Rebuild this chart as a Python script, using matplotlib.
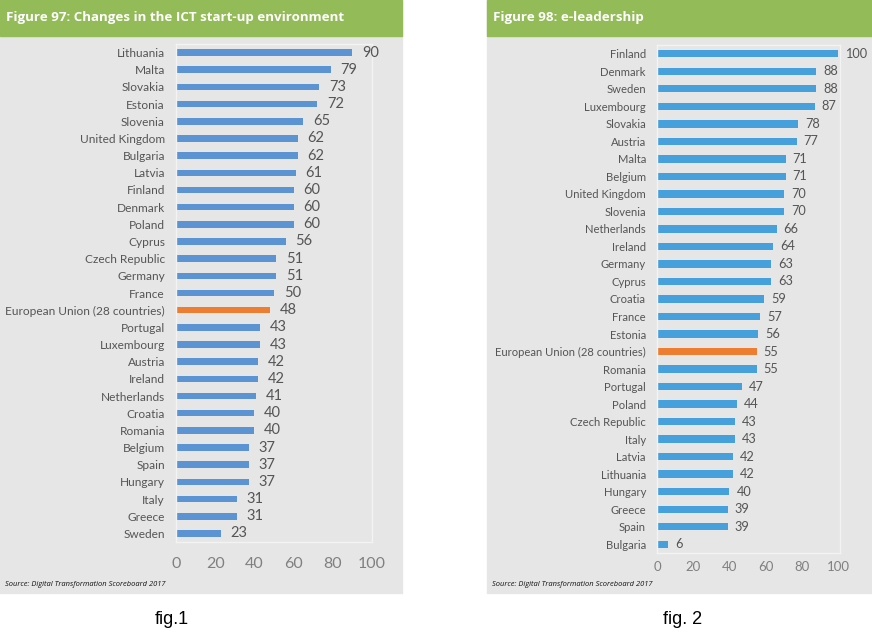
import matplotlib.pyplot as plt
from matplotlib.patches import Rectangle

# figure 97 data
countries_97 = ["Lithuania", "Malta", "Slovakia", "Estonia", "Slovenia", "United Kingdom",
                "Bulgaria", "Latvia", "Finland", "Denmark", "Poland", "Cyprus",
                "Czech Republic", "Germany", "France", "European Union (28 countries)",
                "Portugal", "Luxembourg", "Austria", "Ireland", "Netherlands", "Croatia",
                "Romania", "Belgium", "Spain", "Hungary", "Italy", "Greece", "Sweden"]
values_97 = [90, 79, 73, 72, 65, 62, 62, 61, 60, 60, 60, 56, 51, 51, 50, 48,
             43, 43, 42, 42, 41, 40, 40, 37, 37, 37, 31, 31, 23]

# figure 98 data
countries_98 = ["Finland", "Denmark", "Sweden", "Luxembourg", "Slovakia", "Austria",
                "Malta", "Belgium", "United Kingdom", "Slovenia", "Netherlands", "Ireland",
                "Germany", "Cyprus", "Croatia", "France", "Estonia",
                "European Union (28 countries)", "Romania", "Portugal", "Poland",
                "Czech Republic", "Italy", "Latvia", "Lithuania", "Hungary", "Greece",
                "Spain", "Bulgaria"]
values_98 = [100, 88, 88, 87, 78, 77, 71, 71, 70, 70, 66, 64, 63, 63, 59, 57, 56,
             55, 55, 47, 44, 43, 43, 42, 42, 40, 39, 39, 6]

xticks = [0, 20, 40, 60, 80, 100]
source = "Source: Digital Transformation Scoreboard 2017"

W, H = 872, 636
GREEN = "#93bb58"
GRAY = "#e6e6e6"
ORANGE = "#ed7d31"

fig = plt.figure(figsize=(W / 100, H / 100), dpi=100)


def px_rect(x0, y0, x1, y1):
    # pixel box (top-left origin) -> figure fraction [l, b, w, h]
    return [x0 / W, 1 - y1 / H, (x1 - x0) / W, (y1 - y0) / H]


def panel(x0, x1, title, cats, vals, box, bar_color, lab_size, val_size, tick_size,
          bar_h, val_pad, tick_y, caption, cap_x):
    fig.patches.append(Rectangle((x0 / W, 1 - 593 / H), (x1 - x0) / W, 593 / H,
                                 transform=fig.transFigure, color=GRAY, zorder=-3))
    fig.patches.append(Rectangle((x0 / W, 1 - 36 / H), (x1 - x0) / W, 36 / H,
                                 transform=fig.transFigure, color=GREEN, zorder=-2))
    fig.text((x0 + 6) / W, 1 - 18 / H, title, color="white", fontsize=9.6,
             fontweight="bold", family="Open Sans", va="center", ha="left")
    fig.text((x0 + 5) / W, 1 - 584 / H, source, color="#111111", fontsize=5.4,
             style="italic", family="Open Sans", va="center", ha="left")
    fig.text(cap_x / W, 1 - 620 / H, caption, color="black", fontsize=13,
             family="Liberation Sans", va="center", ha="center")

    ax = fig.add_axes(px_rect(*box))
    ax.set_zorder(1)
    ax.set_facecolor(GRAY)
    ys = list(range(len(cats)))
    colors = [ORANGE if c.startswith("European Union") else bar_color for c in cats]
    ax.barh(ys, vals, height=bar_h, color=colors)
    for y, v in zip(ys, vals):
        ax.annotate(str(v), (v, y), xytext=(val_pad, 0), textcoords="offset points",
                    va="center", ha="left", fontsize=val_size, color="#555555",
                    family="Lato", annotation_clip=False)
    ax.set_ylim(len(cats) - 0.5, -0.5)
    ax.set_yticks(ys)
    ax.set_yticklabels(cats, fontsize=lab_size, color="#555555", family="Lato")
    ax.set_xticks(xticks)
    ax.set_xticklabels([str(t) for t in xticks], fontsize=tick_size, color="#808080",
                       family="Lato")
    ax.tick_params(length=0)
    ax.tick_params(axis="y", pad=8)
    ax.tick_params(axis="x", pad=tick_y)
    for s in ax.spines.values():
        s.set_color("#f3f3f3")
        s.set_linewidth(1)
    return ax


ax1 = panel(0, 402, "Figure 97: Changes in the ICT start-up environment",
            countries_97, values_97, (176, 44, 372, 542), "#5b93d3",
            8.6, 10.5, 11.5, 0.38, 7, 11, "fig.1", 172)
ax1.set_xlim(0, 100)

ax2 = panel(487, 872, "Figure 98: e-leadership",
            countries_98, values_98, (657, 45, 840, 553), "#46a0dc",
            8.1, 9.2, 9.5, 0.42, 5, 6, "fig. 2", 683)
ax2.set_xlim(0, 101)

fig.savefig("out.png", dpi=100, facecolor="white")
